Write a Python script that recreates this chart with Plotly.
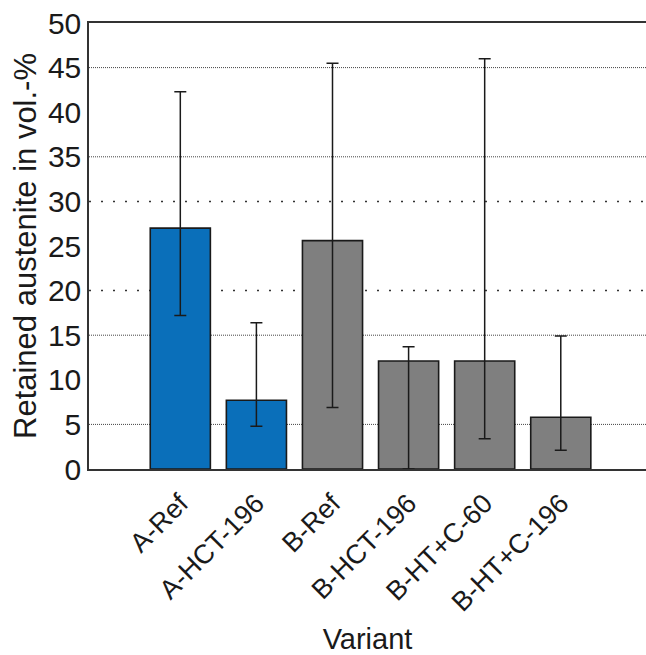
import plotly.graph_objects as go

categories = ["A-Ref", "A-HCT-196", "B-Ref", "B-HCT-196", "B-HT+C-60", "B-HT+C-196"]
values = [27.0, 7.7, 25.6, 12.1, 12.1, 5.8]
err_upper = [42.3, 16.4, 45.5, 13.7, 46.0, 14.9]
err_lower = [17.2, 4.8, 6.9, 0.0, 3.4, 2.1]
colors = ["#0a6fba", "#0a6fba", "#7f7f7f", "#7f7f7f", "#7f7f7f", "#7f7f7f"]

dense_grid = [5, 15, 35, 45]
sparse_grid = [20, 30]
y_ticks = [0, 5, 10, 15, 20, 25, 30, 35, 40, 45, 50]

plus = [u - v for u, v in zip(err_upper, values)]
minus = [v - l for v, l in zip(values, err_lower)]

FONT = "Liberation Sans, Arial, sans-serif"

fig = go.Figure()
fig.add_trace(go.Bar(
    x=categories, y=values,
    marker=dict(color=colors, line=dict(color="#1a1a1a", width=1.6)),
    error_y=dict(type="data", symmetric=False, array=plus, arrayminus=minus,
                 color="#1a1a1a", thickness=1.5, width=6),
))

shapes = []
for g in dense_grid:
    shapes.append(dict(type="line", xref="paper", x0=0, x1=1, yref="y", y0=g, y1=g,
                       line=dict(color="#444444", width=1, dash="1px,1px"), layer="below"))
for g in sparse_grid:
    shapes.append(dict(type="line", xref="paper", x0=0, x1=1, yref="y", y0=g, y1=g,
                       line=dict(color="#333333", width=1.5, dash="2px,10px"), layer="below"))

fig.update_layout(
    width=646, height=655,
    margin=dict(l=89, r=0, t=23, b=186),
    paper_bgcolor="white", plot_bgcolor="white",
    showlegend=False,
    bargap=0.21,
    shapes=shapes,
    font=dict(family=FONT, color="#1a1a1a"),
    xaxis=dict(
        range=[-1.2, 6.12], tickangle=-45, tickfont=dict(size=27),
        showgrid=False, showline=True, linecolor="#333333", linewidth=1.5,
        mirror=True, ticks="", ticklabelstandoff=6,
        title=dict(text="Variant", font=dict(size=29), standoff=18),
        automargin=False,
    ),
    yaxis=dict(
        range=[0, 50], tickvals=y_ticks, tickfont=dict(size=30),
        showgrid=False, showline=True, linecolor="#333333", linewidth=1.5,
        ticks="", ticklen=0, zeroline=False,
        title=dict(text="Retained austenite in vol.-%", font=dict(size=31), standoff=2),
        automargin=False,
    ),
)

fig.write_html("out.html")
